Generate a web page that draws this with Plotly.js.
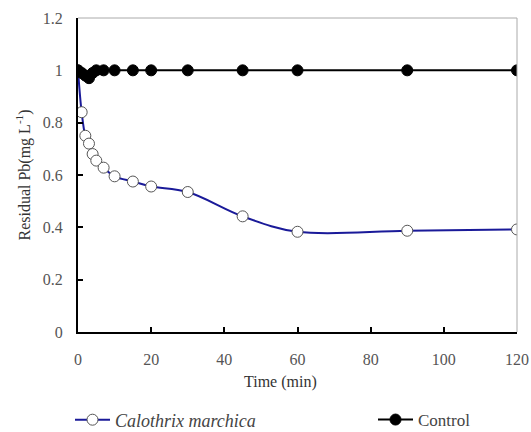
<!DOCTYPE html>
<html>
<head>
<meta charset="utf-8">
<script src="https://cdn.plot.ly/plotly-3.0.1.min.js"></script>
<style>html,body{margin:0;padding:0;background:#fff;}#chart{width:531px;height:432px;}</style>
</head>
<body>
<div id="chart"></div>
<script>
var timeCal = [0, 1, 2, 3, 4, 5, 7, 10, 15, 20, 30, 45, 60, 90, 120];
var residualCal = [1.0, 0.84, 0.75, 0.72, 0.68, 0.655, 0.628, 0.595, 0.575, 0.556, 0.535, 0.442, 0.383, 0.387, 0.392];
var timeCtrl = [0, 1, 2, 3, 4, 5, 7, 10, 15, 20, 30, 45, 60, 90, 120];
var residualCtrl = [1.0, 0.99, 0.98, 0.97, 0.99, 1.0, 1.0, 1.0, 1.0, 1.0, 1.0, 1.0, 1.0, 1.0, 1.0];
var seriesNames = ["<i>Calothrix marchica</i>", "Control"];
var xTicks = [0, 20, 40, 60, 80, 100, 120];
var yTicks = [0, 0.2, 0.4, 0.6, 0.8, 1, 1.2];

var font = "Liberation Serif";

var traces = [
  {
    x: timeCal, y: residualCal, name: seriesNames[0], type: "scatter", mode: "lines+markers",
    line: {color: "#1a1a99", width: 2, shape: "spline", smoothing: 1},
    marker: {symbol: "circle", size: 11, color: "#ffffff", line: {color: "#555555", width: 1}},
    legend: "legend"
  },
  {
    x: timeCtrl, y: residualCtrl, name: seriesNames[1], type: "scatter", mode: "lines+markers",
    line: {color: "#000000", width: 2},
    marker: {symbol: "circle", size: 11, color: "#000000", line: {color: "#000000", width: 1}},
    legend: "legend2"
  }
];

var layout = {
  width: 531, height: 432,
  margin: {l: 78, r: 14, t: 18, b: 100},
  paper_bgcolor: "#ffffff", plot_bgcolor: "#ffffff",
  font: {family: font, size: 16, color: "#444444"},
  showlegend: true,
  xaxis: {
    range: [0, 120], tickvals: xTicks, ticktext: xTicks.map(String),
    showgrid: false, zeroline: false, showline: true, linecolor: "#000000", linewidth: 2,
    ticks: "inside", ticklen: 5, tickwidth: 2, tickcolor: "#000000",
    ticklabelstandoff: 12,
    tickfont: {family: font, size: 16, color: "#555555"},
    fixedrange: true
  },
  yaxis: {
    range: [0, 1.2], tickvals: yTicks, ticktext: yTicks.map(String),
    showgrid: false, zeroline: false, showline: true, linecolor: "#000000", linewidth: 2,
    ticks: "inside", ticklen: 5, tickwidth: 2, tickcolor: "#000000",
    ticklabelstandoff: 10,
    tickfont: {family: font, size: 16, color: "#555555"},
    title: {text: "Residual Pb(mg L<sup>-1</sup>)", font: {family: font, size: 16, color: "#333333"}, standoff: 8},
    fixedrange: true
  },
  shapes: [
    {type: "line", xref: "paper", yref: "paper", x0: 0, x1: 1, y0: 1, y1: 1, line: {color: "#aaaaaa", width: 1}},
    {type: "line", xref: "paper", yref: "paper", x0: 1, x1: 1, y0: 0, y1: 1, line: {color: "#aaaaaa", width: 1}}
  ],
  annotations: [
    {text: "Time (min)", xref: "paper", yref: "paper", x: (280 - 78) / 439, y: -50 / 314, xanchor: "center", yanchor: "middle",
     showarrow: false, font: {family: font, size: 16, color: "#333333"}}
  ],
  legend: {
    orientation: "h", xref: "container", yref: "container", x: 70 / 531, y: 1 - 420 / 432, xanchor: "left", yanchor: "middle",
    bgcolor: "rgba(0,0,0,0)", borderwidth: 0, font: {family: font, size: 18, color: "#444444"}, itemwidth: 35
  },
  legend2: {
    orientation: "h", xref: "container", yref: "container", x: 373 / 531, y: 1 - 420 / 432, xanchor: "left", yanchor: "middle",
    bgcolor: "rgba(0,0,0,0)", borderwidth: 0, font: {family: font, size: 17, color: "#444444"}, itemwidth: 35
  }
};

Plotly.newPlot("chart", traces, layout, {displayModeBar: false, staticPlot: true});
</script>
</body>
</html>
